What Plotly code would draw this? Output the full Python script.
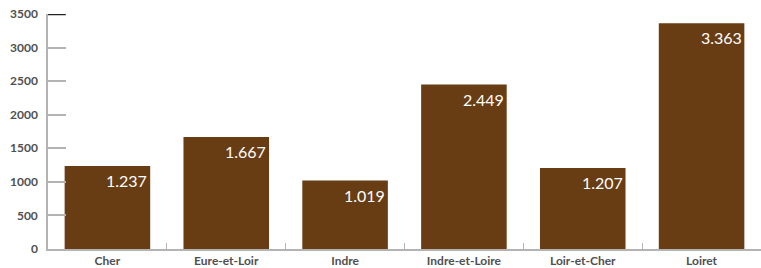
import plotly.graph_objects as go

categories = ["Cher", "Eure-et-Loir", "Indre", "Indre-et-Loire", "Loir-et-Cher", "Loiret"]
values = [1237, 1667, 1019, 2449, 1207, 3363]
y_ticks = [0, 500, 1000, 1500, 2000, 2500, 3000, 3500]

bar_color = "#683d14"
axis_color = "#b3b3b3"
label_font = dict(family="Lato", size=12, color="#505050", weight="bold")


def fmt(v):
    return f"{v:,}".replace(",", ".")


fig = go.Figure()
fig.add_trace(go.Bar(
    x=categories, y=values,
    marker=dict(color=bar_color, line=dict(width=0)),
    hoverinfo="skip",
))

for c, v in zip(categories, values):
    fig.add_annotation(
        x=c, y=v, xref="x", yref="y", text=fmt(v), showarrow=False,
        xanchor="right", yanchor="top", xshift=42, yshift=-3,
        font=dict(family="Lato", size=16, color="white"),
    )

fig.add_shape(type="line", xref="paper", yref="y", x0=0, x1=0.025, y0=3500, y1=3500,
              line=dict(color="#222222", width=2.5))

fig.update_layout(
    width=761, height=268,
    margin=dict(l=48, r=0, t=14, b=19),
    paper_bgcolor="white", plot_bgcolor="white",
    bargap=0.28, showlegend=False,
    xaxis=dict(
        type="category", showline=True, linecolor=axis_color, linewidth=1.5,
        ticks="inside", tickson="boundaries", ticklen=6, tickcolor=axis_color, tickwidth=1,
        tickfont=label_font, showgrid=False, zeroline=False,
    ),
    yaxis=dict(
        range=[0, 3500], tickvals=y_ticks, ticktext=[str(t) for t in y_ticks],
        showline=True, linecolor=axis_color, linewidth=1.5,
        ticks="inside", ticklen=18, tickcolor=axis_color, tickwidth=1.5,
        tickfont=label_font, showgrid=False, zeroline=False, ticklabelstandoff=6,
    ),
)

fig.write_html("out.html", config={"displayModeBar": False},
               post_script="document.body.style.margin='0';")
